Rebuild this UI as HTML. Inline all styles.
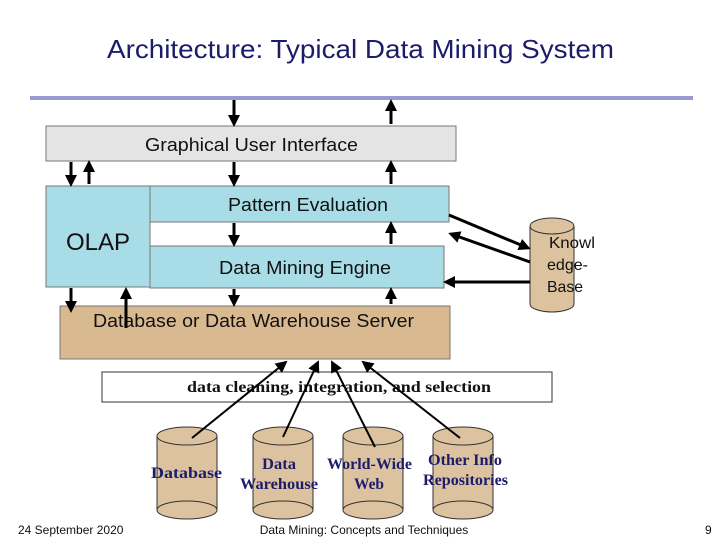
<!DOCTYPE html>
<html><head><meta charset="utf-8"><style>
html,body{margin:0;padding:0;background:#fff;}
svg{display:block;}
</style></head><body>
<svg width="720" height="540" viewBox="0 0 720 540" xmlns="http://www.w3.org/2000/svg">
<defs>
<marker id="ah" markerWidth="4" markerHeight="4" refX="3" refY="2" orient="auto" markerUnits="strokeWidth">
<path d="M0,0 L4,2 L0,4 z" fill="#000"/></marker>
<marker id="ah2" markerWidth="6" markerHeight="6" refX="5" refY="3" orient="auto" markerUnits="strokeWidth">
<path d="M0,0 L6,3 L0,6 z" fill="#000"/></marker>
</defs>
<text x="107" y="58" font-family="Liberation Sans, sans-serif" font-size="26" fill="#1c1c6a" textLength="507" lengthAdjust="spacingAndGlyphs">Architecture: Typical Data Mining System</text>
<rect x="30" y="96" width="663" height="4" fill="#9a9acc"/>

<rect x="46" y="126" width="410" height="35" fill="#e4e4e4" stroke="#777"/>
<text x="145" y="151" font-family="Liberation Sans, sans-serif" font-size="18" fill="#111" textLength="213" lengthAdjust="spacingAndGlyphs">Graphical User Interface</text>
<rect x="46" y="186" width="104" height="101" fill="#a8dce6" stroke="#777"/>
<text x="66" y="250" font-family="Liberation Sans, sans-serif" font-size="24" fill="#111" textLength="64" lengthAdjust="spacingAndGlyphs">OLAP</text>
<rect x="150" y="186" width="299" height="36" fill="#a8dce6" stroke="#777"/>
<text x="228" y="211" font-family="Liberation Sans, sans-serif" font-size="18" fill="#111" textLength="160" lengthAdjust="spacingAndGlyphs">Pattern Evaluation</text>
<rect x="150" y="246" width="294" height="42" fill="#a8dce6" stroke="#777"/>
<text x="219" y="274" font-family="Liberation Sans, sans-serif" font-size="18" fill="#111" textLength="172" lengthAdjust="spacingAndGlyphs">Data Mining Engine</text>
<rect x="60" y="306" width="390" height="53" fill="#d9b98f" stroke="#777"/>
<text x="93" y="327" font-family="Liberation Sans, sans-serif" font-size="18" fill="#111" textLength="321" lengthAdjust="spacingAndGlyphs">Database or Data Warehouse Server</text>

<!-- KB cylinder -->
<path d="M530,226 L530,304 A22,8 0 0 0 574,304 L574,226" fill="#dcc29e" stroke="#333"/>
<ellipse cx="552" cy="226" rx="22" ry="8" fill="#dcc29e" stroke="#333"/>
<g font-family="Liberation Sans, sans-serif" font-size="16" fill="#111">
<text x="549" y="248" textLength="46" lengthAdjust="spacingAndGlyphs">Knowl</text>
<text x="547" y="270" textLength="41" lengthAdjust="spacingAndGlyphs">edge-</text>
<text x="547" y="292" textLength="36" lengthAdjust="spacingAndGlyphs">Base</text>
</g>

<rect x="102" y="372" width="450" height="30" fill="#fff" stroke="#333"/>
<text x="187" y="392" font-family="Liberation Serif, serif" font-size="16" font-weight="bold" fill="#111" textLength="304" lengthAdjust="spacingAndGlyphs">data cleaning, integration, and selection</text>

<g fill="#dcc29e" stroke="#333">
<path d="M157,436 L157,510 A30,9 0 0 0 217,510 L217,436"/><ellipse cx="187" cy="436" rx="30" ry="9"/><path d="M157,510 A30,9 0 0 1 217,510" fill="none"/>
<path d="M253,436 L253,510 A30,9 0 0 0 313,510 L313,436"/><ellipse cx="283" cy="436" rx="30" ry="9"/><path d="M253,510 A30,9 0 0 1 313,510" fill="none"/>
<path d="M343,436 L343,510 A30,9 0 0 0 403,510 L403,436"/><ellipse cx="373" cy="436" rx="30" ry="9"/><path d="M343,510 A30,9 0 0 1 403,510" fill="none"/>
<path d="M433,436 L433,510 A30,9 0 0 0 493,510 L493,436"/><ellipse cx="463" cy="436" rx="30" ry="9"/><path d="M433,510 A30,9 0 0 1 493,510" fill="none"/>
</g>
<g font-family="Liberation Serif, serif" font-size="16" font-weight="bold" fill="#1c1c6a" lengthAdjust="spacingAndGlyphs">
<text x="151" y="478" textLength="71" lengthAdjust="spacingAndGlyphs">Database</text>
<text x="262" y="469" textLength="34" lengthAdjust="spacingAndGlyphs">Data</text><text x="240" y="489" textLength="78" lengthAdjust="spacingAndGlyphs">Warehouse</text>
<text x="327" y="469" textLength="85" lengthAdjust="spacingAndGlyphs">World-Wide</text><text x="354" y="489" textLength="30" lengthAdjust="spacingAndGlyphs">Web</text>
<text x="428" y="465" textLength="74" lengthAdjust="spacingAndGlyphs">Other Info</text><text x="423" y="485" textLength="85" lengthAdjust="spacingAndGlyphs">Repositories</text>
</g>

<g stroke="#000" stroke-width="3" marker-end="url(#ah)">
<line x1="234" y1="100" x2="234" y2="124"/>
<line x1="234" y1="162" x2="234" y2="184"/>
<line x1="234" y1="223" x2="234" y2="244"/>
<line x1="234" y1="289" x2="234" y2="304"/>
<line x1="391" y1="124" x2="391" y2="102"/>
<line x1="391" y1="184" x2="391" y2="163"/>
<line x1="391" y1="244" x2="391" y2="224"/>
<line x1="391" y1="304" x2="391" y2="290"/>
<line x1="71" y1="162" x2="71" y2="184"/>
<line x1="89" y1="184" x2="89" y2="163"/>
<line x1="71" y1="288" x2="71" y2="310"/>
<line x1="126" y1="328" x2="126" y2="290"/>
<line x1="449" y1="215" x2="528" y2="248"/>
<line x1="530" y1="262" x2="451" y2="234"/>
<line x1="530" y1="282" x2="446" y2="282"/>
</g>
<g stroke="#000" stroke-width="2" marker-end="url(#ah2)">
<line x1="192" y1="438" x2="286" y2="362"/>
<line x1="283" y1="437" x2="318" y2="362"/>
<line x1="375" y1="447" x2="332" y2="362"/>
<line x1="460" y1="438" x2="363" y2="362"/>
</g>

<g font-family="Liberation Sans, sans-serif" font-size="12" fill="#111">
<text x="18" y="534">24 September 2020</text>
<text x="364" y="534" text-anchor="middle">Data Mining: Concepts and Techniques</text>
<text x="705" y="534">9</text>
</g>
</svg>
</body></html>
